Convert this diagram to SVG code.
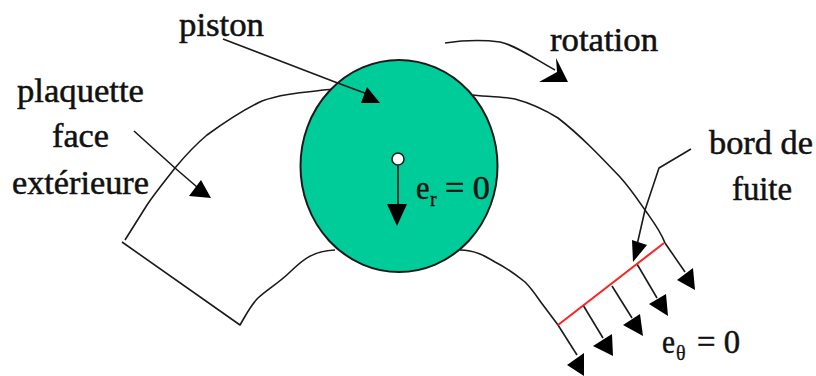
<svg xmlns="http://www.w3.org/2000/svg" width="816" height="376" viewBox="0 0 816 376">
<defs>
<style>
.l{fill:none;stroke:#1a1a1a;stroke-width:1.6;stroke-linejoin:round}
.h{fill:#000;stroke:none}
text{font-family:"Liberation Serif",serif;fill:#111;font-size:33px;stroke:#111;stroke-width:.5}
.s{font-size:20px;stroke-width:.3}
</style>
</defs>
<rect width="816" height="376" fill="#fff"/>
<g id="plaquette">
<path class="l" d="M333 89C310 92 283 93 262 101C245 109 225 122 207 135C195 145 185 156 175 168C165 181 155 193 147 205L125 240"/>
<path class="l" d="M122 242L240 325C246 315 250 306 258 298C268 289 280 282 290 272C300 263 310 251 335 250"/>
<path class="l" d="M473 95C490 97 505 97 515 99C530 103 545 110 558 118C580 135 600 156 620 177C630 188 638 200 645 210C652 220 660 230 665 243"/>
<path class="l" d="M460 250C475 250 485 256 495 262C505 267 515 274 525 282C533 290 537 297 543 305L558 325"/>
</g>
<g id="piston">
<ellipse cx="399" cy="166" rx="98.500" ry="106" fill="#00cc99" stroke="#1a1a1a" stroke-width="2"/>
<circle cx="398" cy="159" r="6" fill="#fff" stroke="#1a1a1a" stroke-width="1.500"/>
</g>
<g id="connectors">
<path class="l" d="M223 39L335 82L370 95"/><path class="h" d="M367 87L380 103L361 103Z"/>
<path class="l" d="M134 131L175 168L197 187"/><path class="h" d="M201 180L211 198L189 196Z"/>
<path class="l" d="M398 166V208"/><path class="h" d="M387 204H407L397 226Z"/>
<path class="l" d="M445 43C465 40 485 40 500 42C515 45 535 59 555 70"/><path class="h" d="M556 58L568 82L539 82L557 72Z"/>
<path class="l" d="M691 149L659 168L645 210L637 245"/><path class="h" d="M632 240L647 245L633 262Z"/>
<path class="l" d="M665 243L685 272"/><path class="h" d="M693 268L677 280L695 290Z"/>
<path class="l" d="M637 264L657 298"/><path class="h" d="M666 294L649 304L668 316Z"/>
<path class="l" d="M612 286L632 318"/><path class="h" d="M640 314L623 325L643 336Z"/>
<path class="l" d="M583 305L603 338"/><path class="h" d="M612 334L593 346L613 356Z"/>
<path class="l" d="M558 325L577 355"/><path class="h" d="M584 353L567 365L584 376Z"/>
<path d="M558 325L664 243" fill="none" stroke="#f22" stroke-width="2"/>
</g>
<g id="labels">
<text x="179" y="36" textLength="85" lengthAdjust="spacingAndGlyphs">piston</text>
<text x="550" y="51" textLength="108" lengthAdjust="spacingAndGlyphs">rotation</text>
<text x="17" y="102" textLength="127" lengthAdjust="spacingAndGlyphs">plaquette</text>
<text x="52" y="147" textLength="57" lengthAdjust="spacingAndGlyphs">face</text>
<text x="12" y="194" textLength="137" lengthAdjust="spacingAndGlyphs">extérieure</text>
<text x="709" y="154" textLength="104" lengthAdjust="spacingAndGlyphs">bord de</text>
<text x="732" y="200" textLength="60" lengthAdjust="spacingAndGlyphs">fuite</text>
<text x="416" y="199" textLength="13.500" lengthAdjust="spacingAndGlyphs">e</text><text class="s" x="430" y="206">r</text><text x="445" y="199" textLength="45" lengthAdjust="spacingAndGlyphs">= 0</text>
<text x="662" y="353" textLength="13" lengthAdjust="spacingAndGlyphs">e</text><text class="s" x="676" y="360">θ</text><text x="697" y="353" textLength="43" lengthAdjust="spacingAndGlyphs">= 0</text>
</g>
</svg>
